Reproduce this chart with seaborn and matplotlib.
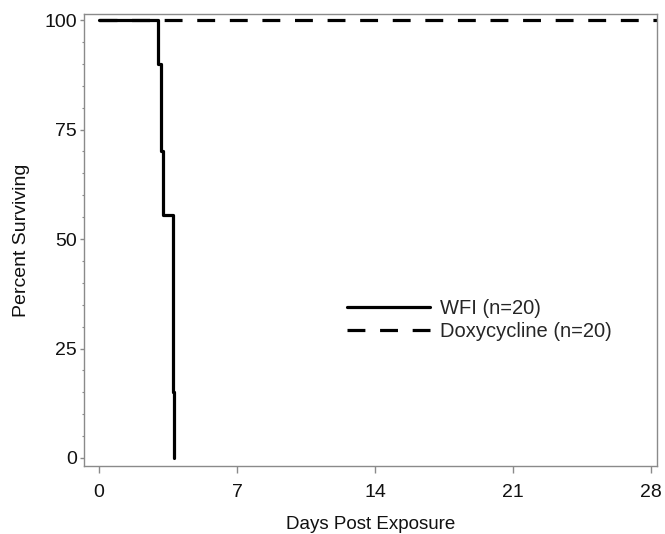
import matplotlib
matplotlib.use("Agg")
import matplotlib.pyplot as plt
import seaborn as sns
import pandas as pd
from matplotlib.ticker import MultipleLocator

# Data
wfi_days = [0, 3.01, 3.14, 3.20, 3.26, 3.77, 3.79]
wfi_surv = [100, 90, 70, 70, 55.6, 15, 0]
doxy_days = [0, 28.3]
doxy_surv = [100, 100]
x_ticks = [0, 7, 14, 21, 28]
y_ticks = [0, 25, 50, 75, 100]
labels = ["WFI (n=20)", "Doxycycline (n=20)"]

sns.set_theme(style="white")
plt.rcParams['font.family'] = ['Liberation Sans', 'DejaVu Sans']

fig = plt.figure(figsize=(6.65, 5.34), dpi=100)
ax = fig.add_axes([84/665, 1-466/534, (657-84)/665, (466-14)/534])

LW = 2.3
wfi = pd.DataFrame({"day": wfi_days, "surv": wfi_surv})
doxy = pd.DataFrame({"day": doxy_days, "surv": doxy_surv})
sns.lineplot(data=wfi, x="day", y="surv", ax=ax, color="black", lw=LW,
             drawstyle="steps-post", label=labels[0], estimator=None, sort=False)
sns.lineplot(data=doxy, x="day", y="surv", ax=ax, color="black", lw=LW,
             label=labels[1], estimator=None, sort=False)
ax.lines[1].set_dashes([5.6, 4.6])
ax.lines[1].set_dash_capstyle("butt")

ax.set_xlim(-0.76, 28.3)
ax.set_ylim(-1.83, 101.4)
ax.set_xticks(x_ticks)
ax.set_yticks(y_ticks)
ax.yaxis.set_minor_locator(MultipleLocator(5))
for s in ax.spines.values():
    s.set_visible(True)
    s.set_color("#8a8a8a")
    s.set_linewidth(1.0)
ax.tick_params(axis="x", which="major", direction="out", length=5, width=1,
               color="#8a8a8a", labelsize=14, labelcolor="#111111", pad=8,
               bottom=True)
ax.tick_params(axis="y", which="major", direction="out", length=3.2, width=1,
               color="#8a8a8a", labelsize=14, labelcolor="#111111", pad=2,
               left=True)
ax.tick_params(axis="y", which="minor", direction="out", length=1.8, width=0.8,
               color="#8a8a8a", left=True)
ax.set_xlabel("Days Post Exposure", fontsize=13.5, color="#111111", labelpad=11)
ax.set_ylabel("Percent Surviving", fontsize=14, color="#111111", labelpad=10)

leg = ax.legend(loc="upper left", bbox_to_anchor=(347/665, 1-299/534),
                bbox_transform=fig.transFigure, frameon=False, fontsize=14.5,
                handlelength=4.1, handletextpad=0.5, borderpad=0,
                borderaxespad=0, labelspacing=0.22)
for h in leg.get_lines():
    h.set_linewidth(LW)
leg.get_lines()[1].set_dashes([5.6, 4.6])

fig.savefig("out.png", dpi=100)
